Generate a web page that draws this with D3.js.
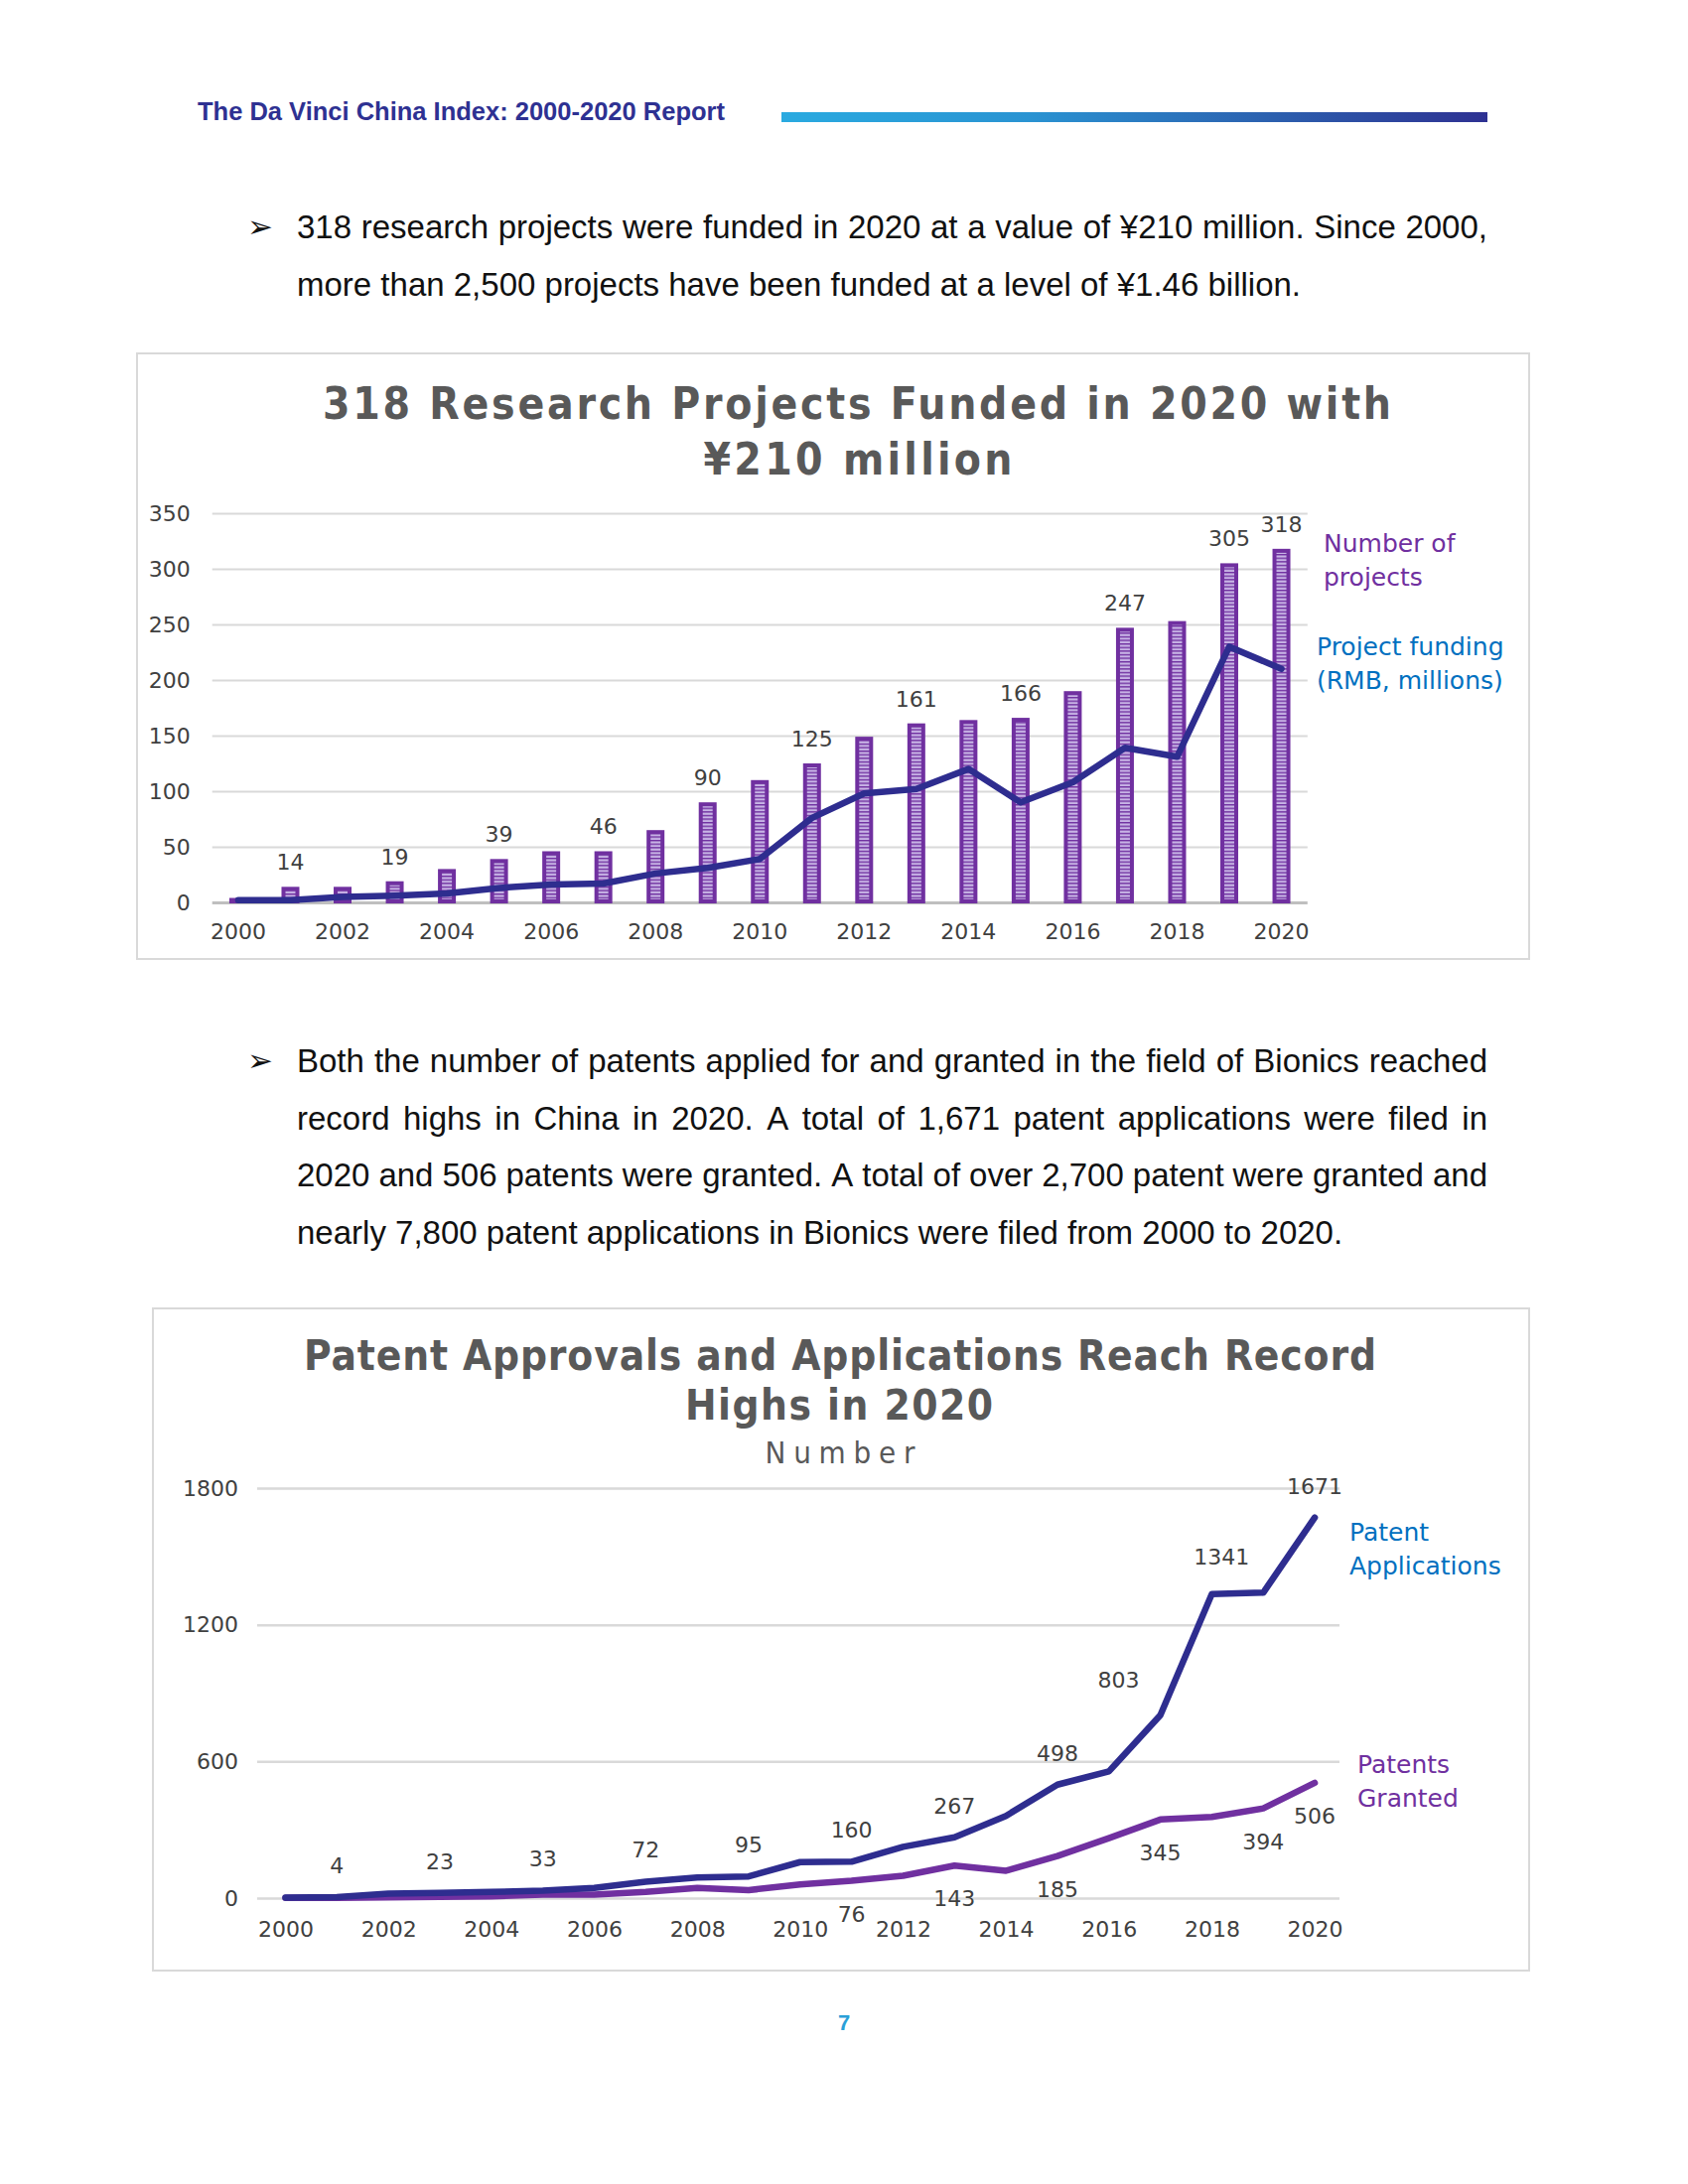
<!DOCTYPE html>
<html>
<head>
<meta charset="utf-8">
<script src="https://cdn.jsdelivr.net/npm/d3@7"></script>
<style>
  html, body { margin: 0; padding: 0; background: #ffffff; }
  svg { display: block; }
</style>
</head>
<body>
<svg id="page" width="1700" height="2200"></svg>
<script>
// ---------------- DATA ----------------
const years = [2000,2001,2002,2003,2004,2005,2006,2007,2008,2009,2010,2011,2012,2013,2014,2015,2016,2017,2018,2019,2020];
const projectCounts = [4,14,14,19,30,39,46,46,65,90,110,125,149,161,164,166,190,247,253,305,318];
const fundingRMB = [2,2,5,6,8,13,16,17,26,31,39,76,98,102,120,90,108,139,131,230,210];
const projectLabelYears = [2001,2003,2005,2007,2009,2011,2013,2015,2017,2019,2020];
const yTicks1 = [0,50,100,150,200,250,300,350];
const xTickYears = [2000,2002,2004,2006,2008,2010,2012,2014,2016,2018,2020];

const patentApplications = [2,4,20,23,27,33,45,72,90,95,158,160,225,267,361,498,556,803,1335,1341,1671];
const patentsGranted = [1,1,3,5,8,15,15,27,45,35,60,76,98,143,120,185,263,345,356,394,506];
const appLabelYears = [2001,2003,2005,2007,2009,2011,2013,2015,2017,2019,2020];
const grantLabelYears = [2011,2013,2015,2017,2019,2020];
const yTicks2 = [0,600,1200,1800];

const headerText = "The Da Vinci China Index: 2000-2020 Report";
const para1Lines = [
  "318 research projects were funded in 2020 at a value of ¥210 million. Since 2000,",
  "more than 2,500 projects have been funded at a level of ¥1.46 billion."
];
const para2Lines = [
  "Both the number of patents applied for and granted in the field of Bionics reached",
  "record highs in China in 2020. A total of 1,671 patent applications were filed in",
  "2020 and 506 patents were granted. A total of over 2,700 patent were granted and",
  "nearly 7,800 patent applications in Bionics were filed from 2000 to 2020."
];
const chart1Title = ["318 Research Projects Funded in 2020 with", "¥210 million"];
const chart1Legend1 = ["Number of", "projects"];
const chart1Legend2 = ["Project funding", "(RMB, millions)"];
const chart2Title = ["Patent Approvals and Applications Reach Record", "Highs in 2020"];
const chart2Subtitle = "Number";
const chart2Legend1 = ["Patent", "Applications"];
const chart2Legend2 = ["Patents", "Granted"];
const pageNumber = "7";

// ---------------- STYLE ----------------
const NAVY = "#2e2d8f";
const PURPLE = "#7030a0";
const LAVENDER = "#c7b3e5";
const BLUE = "#0070c0";
const GRID = "#d9d9d9";
const AXIS0 = "#bfbfbf";
const LABEL = "#404040";
const TITLE = "#595959";
const CHART_FONT = "'DejaVu Sans', Verdana, sans-serif";
const TITLE_FONT = "'Liberation Sans Narrow', 'DejaVu Sans Condensed', 'Liberation Sans', Arial, sans-serif";
const BODY_FONT = "'Liberation Sans', Arial, Helvetica, sans-serif";

const svg = d3.select("#page");
svg.append("rect").attr("width", 1700).attr("height", 2200).attr("fill", "#fff");
const defs = svg.append("defs");

// gradient for header bar
const grad = defs.append("linearGradient").attr("id", "hdrGrad").attr("x1", "0%").attr("x2", "100%");
grad.append("stop").attr("offset", "0%").attr("stop-color", "#2aaae0");
grad.append("stop").attr("offset", "35%").attr("stop-color", "#2a93d2");
grad.append("stop").attr("offset", "70%").attr("stop-color", "#2c5fae");
grad.append("stop").attr("offset", "100%").attr("stop-color", "#2e3192");

// stripe pattern for bars
const pat = defs.append("pattern").attr("id", "hstripe").attr("patternUnits", "userSpaceOnUse")
  .attr("width", 8).attr("height", 3.6);
pat.append("rect").attr("width", 8).attr("height", 3.6).attr("fill", PURPLE);
pat.append("rect").attr("y", 1.4).attr("width", 8).attr("height", 2.2).attr("fill", LAVENDER);

// ---------------- HEADER ----------------
svg.append("text").attr("x", 199).attr("y", 121)
  .attr("font-family", BODY_FONT).attr("font-weight", "bold").attr("font-size", 25.5)
  .attr("fill", "#2e3192").text(headerText);
svg.append("rect").attr("x", 787).attr("y", 113).attr("width", 711).attr("height", 10)
  .attr("fill", "url(#hdrGrad)");

// ---------------- PARAGRAPHS ----------------
function drawParagraph(lines, x0, x1, y0, lh, fs) {
  const g = svg.append("g").attr("font-family", BODY_FONT).attr("font-size", fs).attr("fill", "#111");
  // bullet
  g.append("text").attr("x", 249).attr("y", y0 - 1).attr("font-family", "'DejaVu Sans', sans-serif")
    .attr("font-size", 31).text("➢");
  lines.forEach((line, i) => {
    const y = y0 + i * lh;
    const justify = i < lines.length - 1;
    const words = line.split(" ");
    const nodes = words.map(w => g.append("text").attr("y", y).text(w));
    const widths = nodes.map(n => n.node().getComputedTextLength());
    const total = d3.sum(widths);
    const gap = justify ? (x1 - x0 - total) / (words.length - 1) : fs * 0.278;
    let x = x0;
    nodes.forEach((n, k) => { n.attr("x", x); x += widths[k] + gap; });
  });
}
drawParagraph(para1Lines, 299, 1498, 240, 58, 33);
drawParagraph(para2Lines, 299, 1498, 1080, 57.5, 33);

// ---------------- CHART 1 ----------------
svg.append("rect").attr("x", 138).attr("y", 356).attr("width", 1402).attr("height", 610)
  .attr("fill", "#fff").attr("stroke", GRID).attr("stroke-width", 2);

const c1 = svg.append("g");
c1.append("text").attr("x", 863).attr("y", 422).attr("text-anchor", "middle")
  .attr("font-family", TITLE_FONT).attr("font-weight", "bold").attr("font-size", 44)
  .attr("fill", TITLE).attr("textLength", 1076).attr("lengthAdjust", "spacing").text(chart1Title[0]);
c1.append("text").attr("x", 864).attr("y", 478).attr("text-anchor", "middle")
  .attr("font-family", TITLE_FONT).attr("font-weight", "bold").attr("font-size", 44)
  .attr("fill", TITLE).attr("textLength", 311).attr("lengthAdjust", "spacing").text(chart1Title[1]);

const x1 = d3.scaleBand().domain(years).range([213.7, 1316.8]);
const y1 = d3.scaleLinear().domain([0, 350]).range([909, 517]);
const cx1 = d => x1(d) + x1.bandwidth() / 2;

// gridlines + y labels
const yAx1 = c1.append("g").attr("transform", "translate(213.7,0)")
  .call(d3.axisLeft(y1).tickValues(yTicks1).tickFormat(d3.format("d")).tickSize(-(1316.8 - 213.7)).tickPadding(22));
yAx1.select(".domain").remove();
yAx1.selectAll(".tick line").attr("stroke", d => d === 0 ? AXIS0 : GRID).attr("stroke-width", d => d === 0 ? 3 : 2);
yAx1.selectAll(".tick text").attr("font-family", CHART_FONT).attr("font-size", 22).attr("fill", LABEL);

// x labels
const xAx1 = c1.append("g").attr("transform", "translate(0,909)")
  .call(d3.axisBottom(x1).tickValues(xTickYears).tickSize(0).tickPadding(21));
xAx1.select(".domain").remove();
xAx1.selectAll(".tick text").attr("font-family", CHART_FONT).attr("font-size", 22).attr("fill", LABEL);

// bars
const barW = 14;
c1.append("g").selectAll("rect").data(years).join("rect")
  .attr("x", d => cx1(d) - barW / 2)
  .attr("y", (d, i) => y1(projectCounts[i]) + 2)
  .attr("width", barW)
  .attr("height", (d, i) => Math.max(0, y1(0) - y1(projectCounts[i]) - 3))
  .attr("fill", "url(#hstripe)").attr("stroke", PURPLE).attr("stroke-width", 4);

// funding line
c1.append("path").datum(years)
  .attr("d", d3.line().x(d => cx1(d)).y((d, i) => y1(fundingRMB[i])))
  .attr("fill", "none").attr("stroke", NAVY).attr("stroke-width", 6.5)
  .attr("stroke-linejoin", "round").attr("stroke-linecap", "round");

// bar labels
c1.append("g").selectAll("text").data(projectLabelYears).join("text")
  .attr("x", d => cx1(d)).attr("y", d => y1(projectCounts[years.indexOf(d)]) - 17)
  .attr("text-anchor", "middle").attr("font-family", CHART_FONT).attr("font-size", 22).attr("fill", LABEL)
  .text(d => projectCounts[years.indexOf(d)]);

// legend
function legend(g, lines, x, y, color) {
  lines.forEach((t, i) => g.append("text").attr("x", x).attr("y", y + i * 34)
    .attr("font-family", CHART_FONT).attr("font-size", 25).attr("fill", color).text(t));
}
legend(c1, chart1Legend1, 1333, 556, PURPLE);
legend(c1, chart1Legend2, 1326, 660, BLUE);

// ---------------- CHART 2 ----------------
svg.append("rect").attr("x", 154).attr("y", 1318).attr("width", 1386).attr("height", 667)
  .attr("fill", "#fff").attr("stroke", GRID).attr("stroke-width", 2);

const c2 = svg.append("g");
c2.append("text").attr("x", 846).attr("y", 1380).attr("text-anchor", "middle")
  .attr("font-family", TITLE_FONT).attr("font-weight", "bold").attr("font-size", 42)
  .attr("fill", TITLE).attr("textLength", 1080).attr("lengthAdjust", "spacing").text(chart2Title[0]);
c2.append("text").attr("x", 845).attr("y", 1430).attr("text-anchor", "middle")
  .attr("font-family", TITLE_FONT).attr("font-weight", "bold").attr("font-size", 42)
  .attr("fill", TITLE).attr("textLength", 310).attr("lengthAdjust", "spacing").text(chart2Title[1]);
c2.append("text").attr("x", 846).attr("y", 1474).attr("text-anchor", "middle")
  .attr("font-family", TITLE_FONT).attr("font-size", 31)
  .attr("fill", TITLE).attr("textLength", 151).attr("lengthAdjust", "spacing").text(chart2Subtitle);

const x2 = d3.scalePoint().domain(years).range([261.6, 1350]).padding(0.5);
const y2 = d3.scaleLinear().domain([0, 1800]).range([1912, 1499]);

const yAx2 = c2.append("g").attr("transform", "translate(259,0)")
  .call(d3.axisLeft(y2).tickValues(yTicks2).tickFormat(d3.format("d")).tickSize(-(1349 - 259)).tickPadding(19));
yAx2.select(".domain").remove();
yAx2.selectAll(".tick line").attr("stroke", GRID).attr("stroke-width", 2.5);
yAx2.selectAll(".tick text").attr("font-family", CHART_FONT).attr("font-size", 22).attr("fill", LABEL);

const xAx2 = c2.append("g").attr("transform", "translate(0,1912)")
  .call(d3.axisBottom(x2).tickValues(xTickYears).tickSize(0).tickPadding(23));
xAx2.select(".domain").remove();
xAx2.selectAll(".tick text").attr("font-family", CHART_FONT).attr("font-size", 22).attr("fill", LABEL);

const lineGen = arr => d3.line().x(d => x2(d)).y((d, i) => y2(arr[i]));
c2.append("path").datum(years).attr("d", lineGen(patentsGranted))
  .attr("fill", "none").attr("stroke", PURPLE).attr("stroke-width", 6.5)
  .attr("stroke-linejoin", "round").attr("stroke-linecap", "round");
c2.append("path").datum(years).attr("d", lineGen(patentApplications))
  .attr("fill", "none").attr("stroke", NAVY).attr("stroke-width", 6.5)
  .attr("stroke-linejoin", "round").attr("stroke-linecap", "round");

// application labels: above point; moved left when the next segment climbs steeply
c2.append("g").selectAll("text").data(appLabelYears).join("text")
  .each(function(d) {
    const i = years.indexOf(d);
    const v = patentApplications[i];
    const next = patentApplications[i + 1];
    const steep = next !== undefined && next - v > 200;
    d3.select(this)
      .attr("x", x2(d) - (steep ? 42 : 0))
      .attr("y", y2(v) - (steep ? 28 : 24))
      .text(v);
  })
  .attr("text-anchor", "middle").attr("font-family", CHART_FONT).attr("font-size", 22).attr("fill", LABEL);

// granted labels: below point
c2.append("g").selectAll("text").data(grantLabelYears).join("text")
  .attr("x", d => x2(d)).attr("y", d => y2(patentsGranted[years.indexOf(d)]) + 41)
  .attr("text-anchor", "middle").attr("font-family", CHART_FONT).attr("font-size", 22).attr("fill", LABEL)
  .text(d => patentsGranted[years.indexOf(d)]);

legend(c2, chart2Legend1, 1359, 1552, BLUE);
legend(c2, chart2Legend2, 1367, 1786, PURPLE);

// ---------------- PAGE NUMBER ----------------
svg.append("text").attr("x", 850).attr("y", 2045).attr("text-anchor", "middle")
  .attr("font-family", BODY_FONT).attr("font-weight", "bold").attr("font-size", 22)
  .attr("fill", "#2aa0d8").text(pageNumber);
</script>
</body>
</html>
